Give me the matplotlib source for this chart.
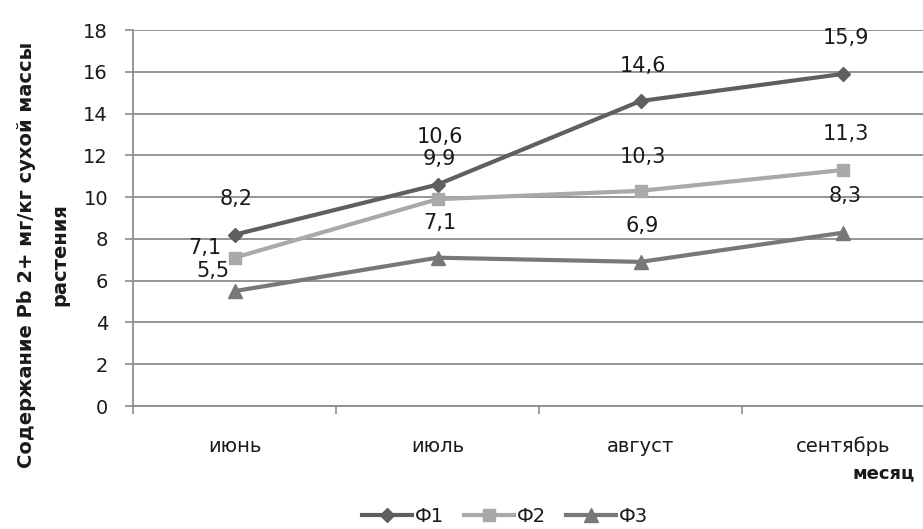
import numpy as np
import matplotlib.pyplot as plt

plt.rcParams['font.family'] = ['DejaVu Sans']

months = ["июнь", "июль", "август", "сентябрь"]
f1 = [8.2, 10.6, 14.6, 15.9]
f2 = [7.1, 9.9, 10.3, 11.3]
f3 = [5.5, 7.1, 6.9, 8.3]
y_ticks = [0, 2, 4, 6, 8, 10, 12, 14, 16, 18]

# label offsets in pixels (dx, dy) per point
off1 = [(2, 36), (2, 48), (2, 35), (2, 36)]
off2 = [(-30, 10), (2, 40), (2, 34), (2, 36)]
off3 = [(-22, 20), (2, 35), (2, 36), (2, 37)]

txt = '#1a1a1a'
grid_c = '#8c8c8c'

fig = plt.figure(figsize=(9.23, 5.29), dpi=100)
# plot area runs past the right edge of the figure
ax = fig.add_axes([133 / 923, 1 - 406 / 529, 812 / 923, 376 / 529])

x = np.arange(len(months))
series = [
    ("Ф1", f1, '#5f5f5f', 'D', 7, off1),
    ("Ф2", f2, '#a9a9a9', 's', 9, off2),
    ("Ф3", f3, '#787878', '^', 10, off3),
]
for name, vals, col, mk, ms, offs in series:
    ax.plot(x, vals, color=col, lw=3, marker=mk, ms=ms, label=name, zorder=3)
    for xi, v, (dx, dy) in zip(x, vals, offs):
        ax.annotate(f"{v:.1f}".replace('.', ','), (xi, v), xytext=(dx, dy),
                    textcoords='offset pixels', ha='center', va='center',
                    fontsize=15, color=txt, zorder=4)

ax.set_xlim(-0.5, len(months) - 0.5)
ax.set_ylim(0, 18)
ax.set_yticks(y_ticks)
ax.set_yticklabels([str(t) for t in y_ticks], fontsize=14, color=txt)
ax.set_xticks(x)
ax.set_xticklabels(months, fontsize=14, color=txt)
ax.set_xticks(np.arange(-0.5, len(months), 1), minor=True)
ax.tick_params(axis='x', which='major', length=0, pad=22)
ax.tick_params(axis='x', which='minor', length=6, color=grid_c, width=1.2)
ax.tick_params(axis='y', length=6, color=grid_c, width=1.2, pad=12)

ax.yaxis.grid(True, color=grid_c, lw=1.3)
ax.set_axisbelow(True)
for s in ['top', 'right']:
    ax.spines[s].set_visible(False)
for s in ['left', 'bottom']:
    ax.spines[s].set_color(grid_c)
    ax.spines[s].set_linewidth(1.3)

fig.text(43 / 923, 1 - 255 / 529,
         "Содержание Pb 2+ мг/кг сухой массы\nрастения",
         rotation=90, ha='center', va='center', multialignment='center',
         fontsize=14, fontweight='bold', color=txt, linespacing=1.95)
fig.text(852 / 923, 1 - 473 / 529, "месяц", ha='left', va='center',
         fontsize=13, fontweight='bold', color=txt)

fig.legend(loc='center', bbox_to_anchor=(505 / 923, 1 - 516 / 529), ncol=3,
           frameon=False, fontsize=14, handlelength=2.6, columnspacing=1.0,
           handletextpad=0.15, labelcolor=txt)

fig.savefig("out.png", dpi=100)
